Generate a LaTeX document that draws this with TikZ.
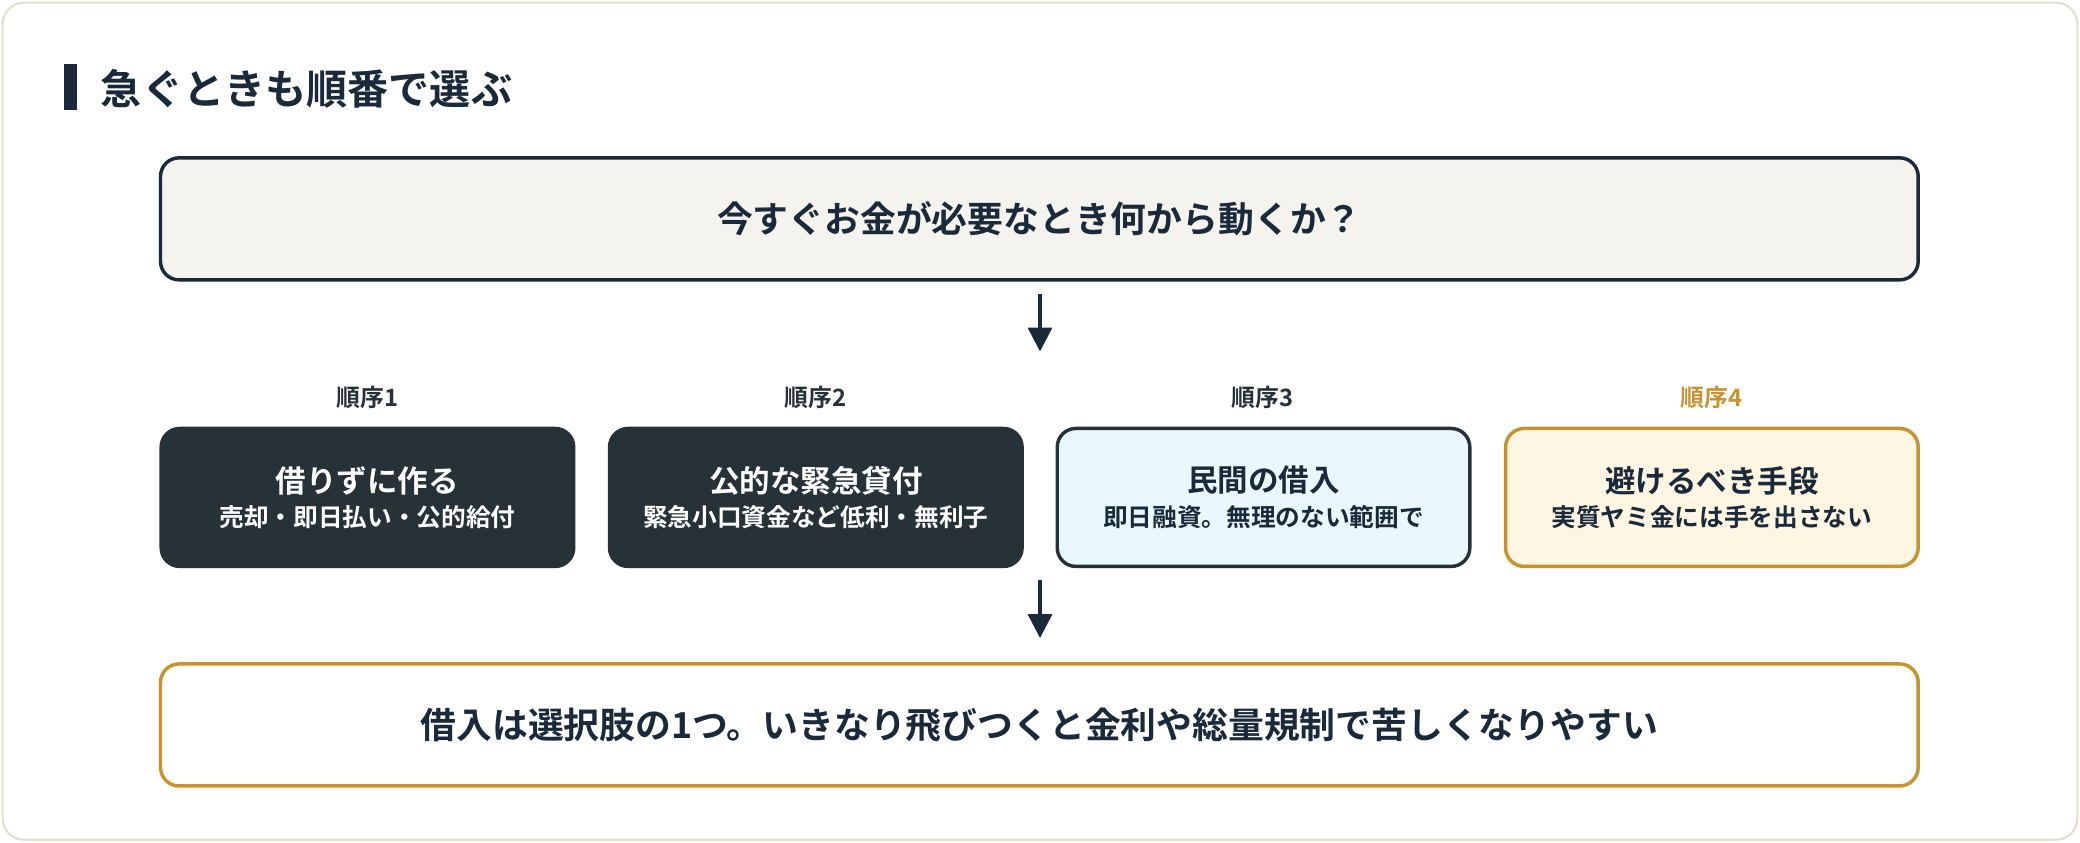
\documentclass[tikz,border=0pt]{standalone}
\usepackage{fontspec}
\setmainfont{Noto Sans CJK JP}[BoldFont={* Bold}]
\usetikzlibrary{arrows.meta}
\definecolor{navy}{HTML}{1B2A3A}
\definecolor{dark}{HTML}{263238}
\definecolor{gold}{HTML}{C8922F}
\definecolor{cream}{HTML}{F5F3EE}
\definecolor{ice}{HTML}{EAF7FC}
\definecolor{peach}{HTML}{FFF5E3}
\definecolor{frame}{HTML}{E3DFCF}
\begin{document}
\begin{tikzpicture}[x=0.5pt,y=-0.5pt,
  box/.style={rounded corners=7pt,line width=1.3pt,minimum height=46pt,inner sep=0pt,align=center},
  stepbox/.style={box,minimum width=155.5pt,minimum height=52pt,font=\bfseries\fontsize{11.5}{14}\selectfont},
  lab/.style={font=\bfseries\fontsize{9}{11}\selectfont,text=dark},
  arr/.style={-{Triangle[length=9pt,width=9pt]},line width=1.3pt,draw=navy}]
\useasboundingbox (0,0) rectangle (1568,635);
\draw[frame,fill=white,rounded corners=8pt,line width=0.8pt] (2,2) rectangle (1566,633);
\fill[navy] (48,48) rectangle (58,83);
\node[anchor=west,text=navy,font=\bfseries\fontsize{15.5}{18}\selectfont] (h) at (69,67) {急ぐときも順番で選ぶ};
\node[box,draw=navy,fill=cream,minimum width=662.5pt,text=navy,font=\bfseries\fontsize{13.5}{16}\selectfont] (q) at (783.5,165) {今すぐお金が必要なとき何から動くか？};
\coordinate (a1s) at (784,222); \coordinate (a1e) at (784,265);
\draw[arr] (a1s) -- (a1e);
\node[lab] (l1) at (277,300) {順序1};
\node[lab] (l2) at (615,300) {順序2};
\node[lab] (l3) at (952,300) {順序3};
\node[lab,text=gold] (l4) at (1290,300) {順序4};
\node[stepbox,draw=dark,fill=dark,text=white] (s1) at (277,375) {借りずに作る\\[-1pt]{\fontsize{9.3}{11}\selectfont 売却・即日払い・公的給付}};
\node[stepbox,draw=dark,fill=dark,text=white] (s2) at (615,375) {公的な緊急貸付\\[-1pt]{\fontsize{9.3}{11}\selectfont 緊急小口資金など低利・無利子}};
\node[stepbox,draw=dark,fill=ice,text=navy] (s3) at (952.5,375) {民間の借入\\[-1pt]{\fontsize{9.3}{11}\selectfont 即日融資。無理のない範囲で}};
\node[stepbox,draw=gold,fill=peach,text=navy] (s4) at (1290.5,375) {避けるべき手段\\[-1pt]{\fontsize{9.3}{11}\selectfont 実質ヤミ金には手を出さない}};
\coordinate (a2s) at (784,437); \coordinate (a2e) at (784,481);
\draw[arr] (a2s) -- (a2e);
\node[box,draw=gold,fill=white,minimum width=662.5pt,text=navy,font=\bfseries\fontsize{13.5}{16}\selectfont] (c) at (783.5,546.5) {借入は選択肢の1つ。いきなり飛びつくと金利や総量規制で苦しくなりやすい};
\end{tikzpicture}
\end{document}
